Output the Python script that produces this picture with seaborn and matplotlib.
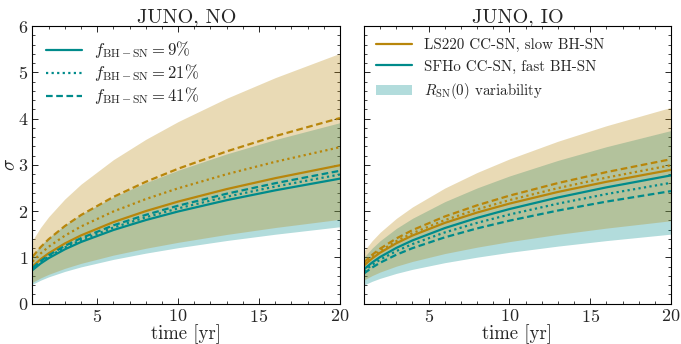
import numpy as np
import pandas as pd
import matplotlib
matplotlib.use("Agg")
import matplotlib.pyplot as plt
from matplotlib.lines import Line2D
from matplotlib.patches import Patch
from matplotlib.ticker import MultipleLocator
import seaborn as sns

# ---------------- data ----------------
time_yr = [1, 1.5, 2, 3, 4, 6, 8, 10, 13, 16, 20]

# JUNO, NO
no_gold_band_hi = [1.364, 1.644, 1.876, 2.260, 2.581, 3.110, 3.549, 3.933, 4.438, 4.883, 5.41]
no_gold_band_lo = [0.459, 0.553, 0.631, 0.760, 0.868, 1.046, 1.194, 1.323, 1.493, 1.643, 1.82]
no_teal_band_hi = [1.046, 1.251, 1.420, 1.697, 1.926, 2.302, 2.612, 2.882, 3.235, 3.544, 3.91]
no_teal_band_lo = [0.418, 0.504, 0.576, 0.694, 0.792, 0.954, 1.089, 1.207, 1.362, 1.498, 1.66]
no_gold_9 = [0.800, 0.957, 1.086, 1.298, 1.473, 1.760, 1.998, 2.204, 2.474, 2.710, 2.99]
no_gold_21 = [0.905, 1.081, 1.227, 1.467, 1.665, 1.990, 2.258, 2.491, 2.796, 3.064, 3.38]
no_gold_41 = [1.011, 1.218, 1.390, 1.675, 1.913, 2.305, 2.631, 2.915, 3.289, 3.619, 4.01]
no_teal_9 = [0.723, 0.864, 0.980, 1.172, 1.330, 1.589, 1.804, 1.990, 2.234, 2.447, 2.70]
no_teal_21 = [0.747, 0.893, 1.013, 1.211, 1.374, 1.642, 1.864, 2.057, 2.308, 2.529, 2.79]
no_teal_41 = [0.768, 0.918, 1.042, 1.246, 1.413, 1.690, 1.917, 2.115, 2.374, 2.601, 2.87]

# JUNO, IO
io_gold_band_hi = [1.135, 1.356, 1.540, 1.840, 2.088, 2.496, 2.833, 3.125, 3.508, 3.843, 4.24]
io_gold_band_lo = [0.509, 0.603, 0.681, 0.807, 0.910, 1.080, 1.218, 1.338, 1.494, 1.630, 1.79]
io_teal_band_hi = [1.001, 1.196, 1.358, 1.623, 1.842, 2.202, 2.499, 2.757, 3.094, 3.390, 3.74]
io_teal_band_lo = [0.401, 0.480, 0.545, 0.651, 0.739, 0.883, 1.002, 1.106, 1.241, 1.360, 1.50]
io_gold_9 = [0.821, 0.974, 1.099, 1.303, 1.470, 1.743, 1.967, 2.160, 2.412, 2.631, 2.89]
io_gold_21 = [0.850, 1.007, 1.137, 1.348, 1.521, 1.803, 2.035, 2.235, 2.495, 2.722, 2.99]
io_gold_41 = [0.887, 1.051, 1.186, 1.406, 1.587, 1.882, 2.123, 2.332, 2.604, 2.841, 3.12]
io_teal_9 = [0.741, 0.886, 1.006, 1.202, 1.364, 1.631, 1.851, 2.042, 2.292, 2.511, 2.77]
io_teal_21 = [0.698, 0.835, 0.948, 1.133, 1.285, 1.537, 1.744, 1.924, 2.159, 2.366, 2.61]
io_teal_41 = [0.650, 0.777, 0.882, 1.055, 1.197, 1.431, 1.624, 1.791, 2.010, 2.203, 2.43]

fractions = ["9", "21", "41"]
panel_titles = ["JUNO, NO", "JUNO, IO"]
model_labels = ["LS220 CC-SN, slow BH-SN", "SFHo CC-SN, fast BH-SN"]
band_label = r"$R_{\rm SN}(0)$ variability"

# ---------------- style ----------------
sns.set_style("ticks")
plt.rcParams.update({
    "font.family": "serif",
    "font.serif": ["cmr10", "DejaVu Serif"],
    "mathtext.fontset": "cm",
    "axes.formatter.use_mathtext": True,
    "axes.unicode_minus": False,
    "xtick.direction": "in",
    "ytick.direction": "in",
    "xtick.top": True,
    "ytick.right": True,
    "axes.edgecolor": "black",
    "axes.linewidth": 0.8,
})

GOLD = "#B8860B"
TEAL = "#008B8B"
styles = {"9": "-", "21": (0, (1, 1.5)), "41": (0, (3, 1.6))}
LW = 1.6

fig = plt.figure(figsize=(6.81, 3.44), dpi=100)
axL = fig.add_axes([0.0477, 0.1177, 0.4515, 0.8067])
axR = fig.add_axes([0.5345, 0.1177, 0.4508, 0.8067], sharey=axL)

panels = [
    (axL, no_gold_band_lo, no_gold_band_hi, no_teal_band_lo, no_teal_band_hi,
     {"9": no_gold_9, "21": no_gold_21, "41": no_gold_41},
     {"9": no_teal_9, "21": no_teal_21, "41": no_teal_41}),
    (axR, io_gold_band_lo, io_gold_band_hi, io_teal_band_lo, io_teal_band_hi,
     {"9": io_gold_9, "21": io_gold_21, "41": io_gold_41},
     {"9": io_teal_9, "21": io_teal_21, "41": io_teal_41}),
]

for (ax, glo, ghi, tlo, thi, gold_lines, teal_lines), title in zip(panels, panel_titles):
    ax.fill_between(time_yr, tlo, thi, color=TEAL, alpha=0.3, lw=0)
    ax.fill_between(time_yr, glo, ghi, color=GOLD, alpha=0.3, lw=0)
    rows = []
    for f in fractions:
        for t, v in zip(time_yr, gold_lines[f]):
            rows.append(("gold", f, t, v))
        for t, v in zip(time_yr, teal_lines[f]):
            rows.append(("teal", f, t, v))
    df = pd.DataFrame(rows, columns=["model", "frac", "time", "sigma"])
    for model, col in [("gold", GOLD), ("teal", TEAL)]:
        for f in fractions:
            sub = df[(df.model == model) & (df.frac == f)]
            sns.lineplot(data=sub, x="time", y="sigma", ax=ax, color=col,
                         linestyle=styles[f], lw=LW, legend=False)
    ax.set_xlim(1, 20)
    ax.set_ylim(0, 6)
    ax.xaxis.set_major_locator(MultipleLocator(5))
    ax.xaxis.set_minor_locator(MultipleLocator(1))
    ax.yaxis.set_major_locator(MultipleLocator(1))
    ax.yaxis.set_minor_locator(MultipleLocator(0.2))
    ax.tick_params(which="major", length=4, width=0.7, labelsize=13,
                   top=True, right=True, pad=3)
    ax.tick_params(which="minor", length=2, width=0.6, top=True, right=True)
    ax.set_title(title, fontsize=14.5, pad=2)
    ax.set_xlabel("time [yr]", fontsize=13.5, labelpad=0)
    ax.set_ylabel("")

axL.set_ylabel(r"$\sigma$", fontsize=14)
axL.yaxis.set_label_coords(-0.042, 0.5)
plt.setp(axR.get_yticklabels(), visible=False)

# legends
hL = [Line2D([], [], color=TEAL, lw=LW, linestyle=styles[f]) for f in fractions]
labL = [r"$f_{\rm BH-SN} = %s\%%$" % f for f in fractions]
axL.legend(hL, labL, loc="upper left", frameon=False, fontsize=12,
           handlelength=2.2, handletextpad=0.7, labelspacing=0.12,
           borderaxespad=0.4, bbox_to_anchor=(0.0, 1.0))

hR = [Line2D([], [], color=GOLD, lw=LW), Line2D([], [], color=TEAL, lw=LW),
      Patch(facecolor=TEAL, alpha=0.3, lw=0)]
axR.legend(hR, model_labels + [band_label], loc="upper left", frameon=False,
           fontsize=10.8, handlelength=2.4, handletextpad=0.8, labelspacing=0.5,
           borderaxespad=0.4, bbox_to_anchor=(0.0, 1.0))

fig.savefig("out.png", dpi=100)
